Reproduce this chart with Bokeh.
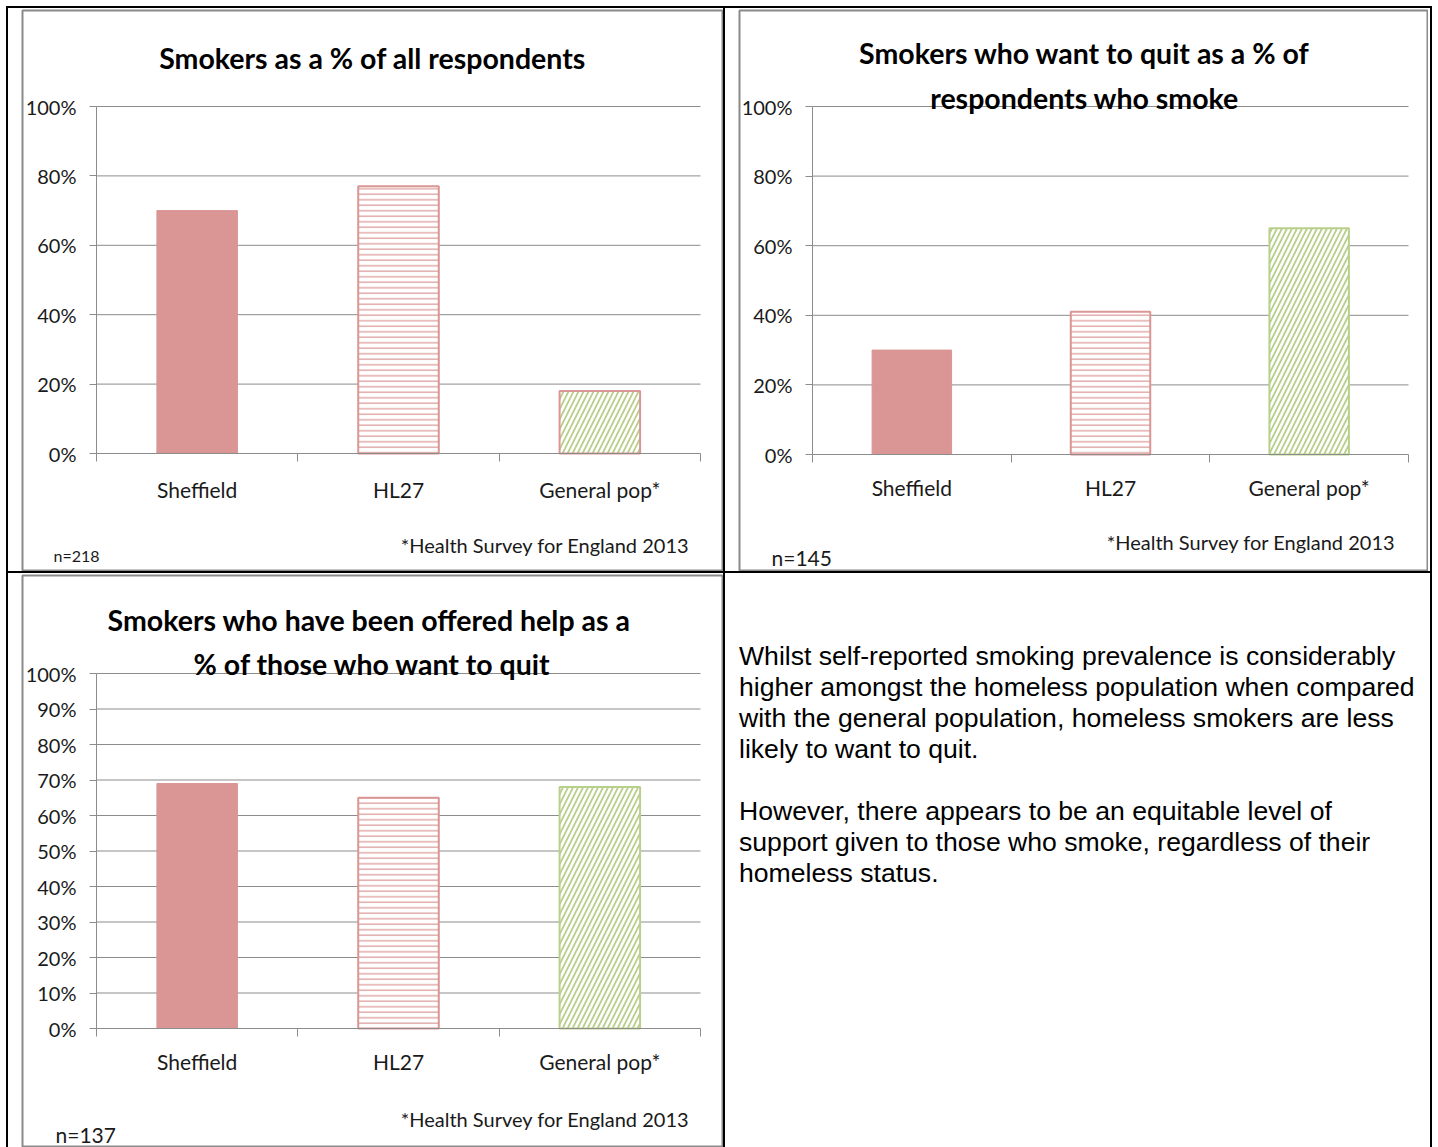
from bokeh.plotting import figure
from bokeh.models import (LinearAxis, FixedTicker, Label, Range1d, Div, Spacer,
                          PrintfTickFormatter)
from bokeh.layouts import row, column
from bokeh.embed import file_html
from bokeh.resources import INLINE

# ---------------- data ----------------
categories = ["Sheffield", "HL27", "General pop*"]
smokers_pct = [70, 77, 18]          # Smokers as a % of all respondents
want_quit_pct = [30, 41, 65]        # Smokers who want to quit as % of smokers
offered_help_pct = [69, 65, 68]     # Offered help as % of those who want to quit
ticks_20 = [0, 20, 40, 60, 80, 100]
ticks_10 = [0, 10, 20, 30, 40, 50, 60, 70, 80, 90, 100]
title_1 = ["Smokers as a % of all respondents"]
title_2 = ["Smokers who want to quit as a % of", "respondents who smoke"]
title_3 = ["Smokers who  have been offered help as a", "% of those who want to quit"]
source_note = "*Health Survey for England 2013"
n_1, n_2, n_3 = "n=218", "n=145", "n=137"
para_1 = ["Whilst self-reported smoking prevalence is considerably",
          "higher amongst the homeless population when compared",
          "with the general population, homeless smokers are less",
          "likely to want to quit."]
para_2 = ["However, there appears to be an equitable level of",
          "support given to those who smoke, regardless of their",
          "homeless status."]

# ---------------- styles ----------------
FONT = "Lato"
GRID = "#8c8c8c"
BORDER = "#8a8a8a"
TXT = "#1a1a1a"
RED = "#D99694"
GREEN = "#B9CF8C"


def bar_styles(gen_line):
    return [
        dict(fill_color=RED, line_color=RED, line_width=1),
        dict(fill_color="white", line_color=RED, line_width=2,
             hatch_pattern="horizontal_line", hatch_color=RED,
             hatch_scale=5.5, hatch_weight=1.2),
        dict(fill_color="white", line_color=gen_line, line_width=2,
             hatch_pattern="right_diagonal_line", hatch_color=GREEN,
             hatch_scale=10, hatch_weight=1.8),
    ]


def build_chart(values, ticks, ox, oy, cw, ch, box, titles, title_cx, title_ys,
                cat_standoff, note_xy, n_text, n_xy, n_size, gen_line):
    L, R, T, B = box
    fx, fy = ox + 1, oy + 1
    fw, fh = cw - 2, ch - 2
    l, r, t, b = L - fx, R - fx, T - fy, B - fy
    n = len(categories)
    x0, x1 = -0.5, n - 0.5
    y0, y1 = ticks[0], ticks[-1]
    sx = (r - l) / (x1 - x0)
    sy = (b - t) / (y1 - y0)
    xr = Range1d(x0 - l / sx, x1 + (fw - r) / sx)
    yr = Range1d(y0 - (fh - b) / sy, y1 + t / sy)

    def to_data(px, py):
        return x0 + (px - fx - l) / sx, y0 + (b - (py - fy)) / sy

    p = figure(width=cw, height=ch, x_range=xr, y_range=yr,
               output_backend="svg", toolbar_location=None,
               x_axis_type=None, y_axis_type=None, title=None,
               min_border=1, background_fill_color="white",
               border_fill_color="white")
    p.outline_line_color = BORDER
    p.outline_line_width = 2

    # gridlines at tick values
    gv = [v for v in ticks if v != y0]
    p.segment(x0=[x0] * len(gv), x1=[x1] * len(gv), y0=gv, y1=gv,
              line_color=GRID, line_width=1)

    # bars
    for i, (cat, val) in enumerate(zip(categories, values)):
        p.vbar(x=[i], top=[val], bottom=0, width=0.4, **bar_styles(gen_line)[i])

    # y axis
    yax = LinearAxis(fixed_location=x0, bounds=(y0, y1),
                     ticker=FixedTicker(ticks=ticks),
                     formatter=PrintfTickFormatter(format="%d%%"),
                     major_tick_out=7, major_tick_in=0,
                     minor_tick_line_color=None,
                     axis_line_color=GRID, major_tick_line_color=GRID,
                     major_label_text_font=FONT,
                     major_label_text_font_size="20px",
                     major_label_text_color=TXT,
                     major_label_standoff=13)
    p.add_layout(yax, "left")

    # x axis with tick marks between categories
    xax = LinearAxis(fixed_location=y0, bounds=(x0, x1),
                     ticker=FixedTicker(ticks=[x0 + k for k in range(n + 1)]),
                     major_tick_out=8, major_tick_in=0,
                     minor_tick_line_color=None,
                     axis_line_color=GRID, major_tick_line_color=GRID,
                     major_label_text_color=None)
    p.add_layout(xax, "below")

    # category labels
    cax = LinearAxis(fixed_location=y0,
                     ticker=FixedTicker(ticks=list(range(n))),
                     major_label_overrides={i: c for i, c in enumerate(categories)},
                     axis_line_color=None, major_tick_line_color=None,
                     minor_tick_line_color=None,
                     major_tick_out=0, major_tick_in=0,
                     major_label_text_font=FONT,
                     major_label_text_font_size="21px",
                     major_label_text_color=TXT,
                     major_label_standoff=cat_standoff)
    p.add_layout(cax, "below")

    # title
    for line, ty in zip(titles, title_ys):
        x, y = to_data(title_cx, ty)
        p.add_layout(Label(x=x, y=y, text=line, text_align="center",
                           text_baseline="middle", text_font=FONT,
                           text_font_style="bold", text_font_size="28.5px",
                           text_color="black"))
    # source note
    x, y = to_data(*note_xy)
    p.add_layout(Label(x=x, y=y, text=source_note, text_align="right",
                       text_baseline="middle", text_font=FONT,
                       text_font_size="20px", text_color=TXT))
    # n
    x, y = to_data(*n_xy)
    p.add_layout(Label(x=x, y=y, text=n_text, text_align="left",
                       text_baseline="middle", text_font=FONT,
                       text_font_size=n_size, text_color=TXT))
    return p


p1 = build_chart(smokers_pct, ticks_20, 21, 9, 702, 562, (96, 700, 106, 453),
                 title_1, 372, [57], 23, (689, 544), n_1, (53, 555), "16px", RED)
p2 = build_chart(want_quit_pct, ticks_20, 738, 9, 690, 562, (812, 1408, 106, 454),
                 title_2, 1084, [52, 97], 20, (1395, 541), n_2, (771, 557), "21px", GREEN)
p3 = build_chart(offered_help_pct, ticks_10, 21, 574, 702, 573, (96, 700, 673, 1028),
                 title_3, 372, [619, 663], 20, (689, 1118), n_3, (55, 1134), "21px", GREEN)


def vline(h):
    return Div(text="", width=2, height=h, margin=0,
               styles={"background-color": "black"})


def hline(w):
    return Div(text="", width=w, height=2, margin=0,
               styles={"background-color": "black"})


html = ('<div style="font-family:\'Liberation Sans\',Arial,sans-serif;font-size:26.6px;'
        'line-height:31px;color:#000;padding:68px 0 0 14px;white-space:nowrap;margin:0;">'
        + "<br>".join(para_1) + "<br><br>" + "<br>".join(para_2) + "</div>")
text_cell = Div(text=html, width=705, height=574, margin=0)

row1 = row(vline(563), Spacer(width=13, height=563),
           column(Spacer(width=702, height=1), p1),
           vline(563), Spacer(width=13, height=563),
           column(Spacer(width=690, height=1), p2),
           Spacer(width=2, height=563), vline(563))
row2 = row(vline(574), Spacer(width=13, height=574),
           column(Spacer(width=702, height=1), p3),
           vline(574), text_cell, vline(574))
page = row(Spacer(width=6, height=1147),
           column(Spacer(width=1426, height=6), hline(1426), row1, hline(1426), row2))

open("out.html", "w").write(file_html(page, INLINE))
